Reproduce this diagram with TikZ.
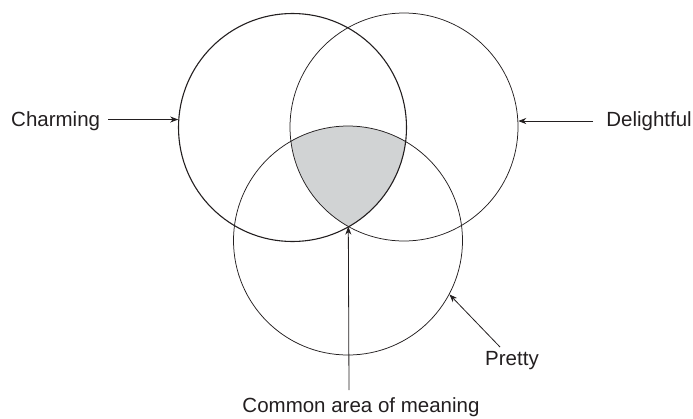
\documentclass[tikz,border=0pt]{standalone}
\usepackage{fontspec}
\setmainfont{Liberation Sans}
\usetikzlibrary{arrows.meta}
\definecolor{areagray}{HTML}{D1D3D4}
\definecolor{ink}{HTML}{231F20}
\begin{document}
\begin{tikzpicture}[x=1pt,y=-1pt,
  ring/.style={circle,draw=ink,line width=0.75pt,minimum size=228pt,inner sep=0pt},
  label/.style={inner sep=0pt,font=\fontsize{20.5}{24}\selectfont,text=ink},
  arr/.style={draw=ink,line width=0.8pt,-{Stealth[length=8pt,width=6pt,inset=2.5pt]}}]
\useasboundingbox (0,0) rectangle (693,418);
% shaded common area
\begin{scope}
  \clip (292.5,127.5) circle (114);
  \clip (404,127) circle (114);
  \fill[areagray] (348,240.5) circle (114.5);
\end{scope}
\node[ring,line width=1.1pt] (L) at (292.5,127.5) {};
\node[ring] (R) at (404,127) {};
\node[ring,minimum size=229pt] (B) at (348,240.5) {};
% labels
\node[label,anchor=base west] (charm) at (11,126.7) {Charming};
\node[label,anchor=base east] (del) at (692,126.5) {Delightful};
\node[label,anchor=base west] (pretty) at (485,365) {Pretty};
\node[label,anchor=base] (common) at (361,412) {Common area of meaning};
% arrow ends
\coordinate (ptail) at (500,347);
\coordinate (ctail) at (349,390);
\coordinate (tri) at (348.3,226.6);
\draw[arr] (L.176.6 -| charm.east) ++(8,0) -- (L.176.6);
\draw[arr] (R.3.5 -| del.west) ++(-13,0) -- (R.3.5);
\draw[arr] (ptail) -- (B.-28.6);
\draw[arr] (ctail) -- (tri);
\end{tikzpicture}
\end{document}
